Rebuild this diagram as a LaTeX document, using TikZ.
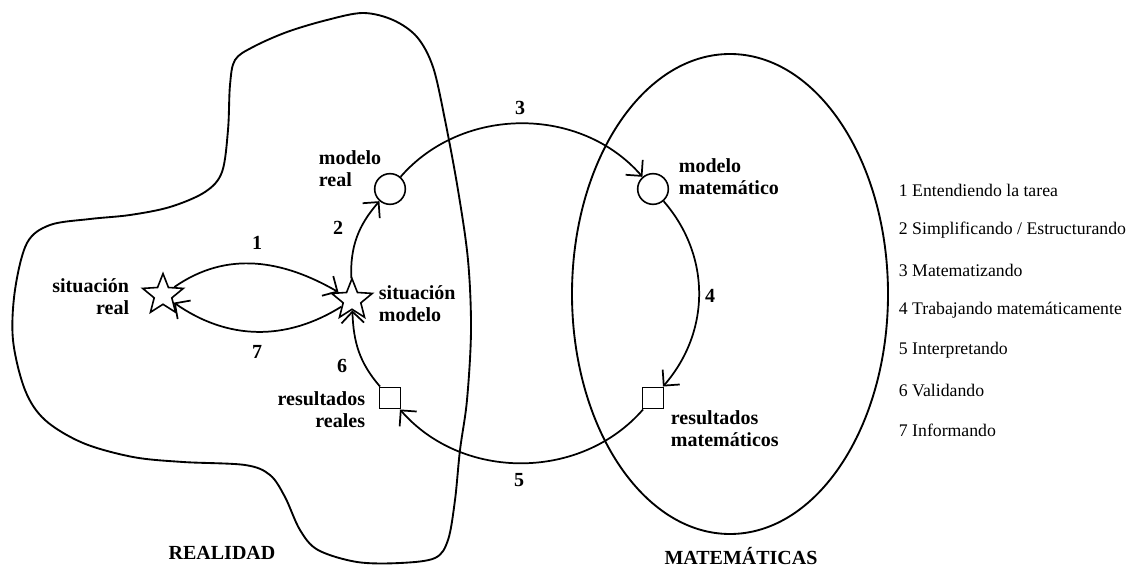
\documentclass[tikz,border=0pt]{standalone}
\usepackage{fontspec}
\setmainfont{Liberation Serif}
\usetikzlibrary{arrows.meta,shapes.geometric}

\begin{document}
\begin{tikzpicture}[
        x=0.75pt, y=0.75pt,
        line width=1.4pt,
        estrella/.style={draw, star, star points=5, star point ratio=2.3, minimum size=32pt, inner sep=0pt, line width=1.2pt},
        circulo/.style={draw, circle, minimum size=23pt, inner sep=0pt, line width=1.2pt},
        cuadro/.style={draw, rectangle, minimum size=16pt, inner sep=0pt, line width=1.2pt},
        etiqueta/.style={font=\fontsize{15}{16.5}\selectfont\bfseries, inner sep=0pt},
        numero/.style={font=\fontsize{15}{16.5}\selectfont\bfseries, inner sep=0pt},
        leyenda/.style={font=\fontsize{13.3}{15}\selectfont, anchor=west, inner sep=0pt},
        flecha/.style={-{Straight Barb[angle=90:12pt]}, line width=1.3pt}
    ]
        \useasboundingbox (0,0) rectangle (1131,568);

        \draw plot[smooth cycle, tension=0.55] coordinates {
            (235,508) (253,521) (287,536) (327,548) (363,555) (393,548) (417,531) (433,501)
            (445,448) (458,378) (468,308) (471,238) (467,168) (460,118) (455,68) (448,28)
            (435,10) (400,5) (357,6) (318,18) (300,38) (285,71) (270,93) (245,103)
            (183,106) (133,111) (83,125) (45,148) (25,178) (13,228) (15,278) (27,325)
            (50,343) (90,349) (130,353) (170,361) (205,376) (222,396) (228,438) (230,483)};
        \draw (730,274) ellipse [x radius=118.5pt, y radius=180pt];

        \node[estrella] (sr) at (163,273) {};
        \node[estrella] (sm) at (352,268) {};
        \node[circulo] (mr) at (390,379) {};
        \node[circulo] (mm) at (653,379) {};
        \node[cuadro] (rr) at (390,170) {};
        \node[cuadro] (rm) at (653,170) {};

        \node[etiqueta, align=right, anchor=east] (lsr) at (130,271) {situación\\real};
        \node[etiqueta, align=left, anchor=west] (lsm) at (378,264) {situación\\modelo};
        \node[etiqueta, align=left, anchor=west] (lmr) at (318,399) {modelo\\real};
        \node[etiqueta, align=left, anchor=west] (lmm) at (678,391) {modelo\\matemático};
        \node[etiqueta, align=right, anchor=east] (lrr) at (366,158) {resultados\\reales};
        \node[etiqueta, align=left, anchor=west] (lrm) at (670,139) {resultados\\matemáticos};

        \node[numero] (n1) at (257,325) {1};
        \node[numero] (n2) at (338,340) {2};
        \node[numero] (n3) at (520,460) {3};
        \node[numero] (n4) at (710,272) {4};
        \node[numero] (n5) at (519,88) {5};
        \node[numero] (n6) at (342,202) {6};
        \node[numero] (n7) at (257,216) {7};

        \node[etiqueta] (realidad) at (222,15) {REALIDAD};
        \node[etiqueta] (matematicas) at (741,12) {MATEMÁTICAS};

        \node[leyenda] (l1) at (898,378) {1 Entendiendo la tarea};
        \node[leyenda] (l2) at (898,338) {2 Simplificando / Estructurando};
        \node[leyenda] (l3) at (898,298) {3 Matematizando};
        \node[leyenda] (l4) at (898,258) {4 Trabajando matemáticamente};
        \node[leyenda] (l5) at (898,218) {5 Interpretando};
        \node[leyenda] (l6) at (898,178) {6 Validando};
        \node[leyenda] (l7) at (898,138) {7 Informando};

        \draw[flecha] (sr) to[out=35, in=150] (sm);
        \draw[flecha] (sm) to[out=212, in=-35] (sr);
        \draw[flecha] (sm) to[out=92, in=229] (mr);
        \draw[flecha] (mr) to[out=49, in=131] (mm);
        \draw[flecha] (mm) to[out=-49, in=49] (rm);
        \draw[flecha] (rm) to[out=-131, in=-49] (rr);
        \draw[flecha] (rr) to[out=131, in=-88] (sm);
    \end{tikzpicture}
\end{document}
